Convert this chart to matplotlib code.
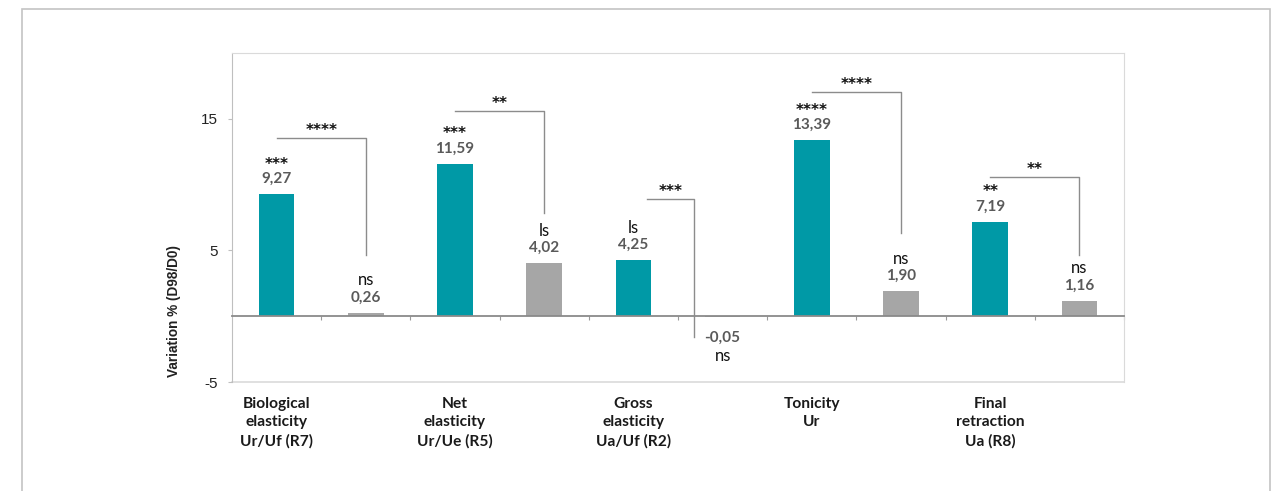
import numpy as np
import matplotlib
matplotlib.use('Agg')
import matplotlib.pyplot as plt
import matplotlib.transforms as mtransforms
from matplotlib.patches import Rectangle

# Parameter groups, one teal (treated) / gray (placebo) pair each
categories = ['Biological\nelasticity\nUr/Uf (R7)',
              'Net\nelasticity\nUr/Ue (R5)',
              'Gross\nelasticity\nUa/Uf (R2)',
              'Tonicity\nUr',
              'Final\nretraction\nUa (R8)']
teal_values = [9.27, 11.59, 4.25, 13.39, 7.19]
gray_values = [0.26, 4.02, -0.05, 1.90, 1.16]
teal_sig = ['***', '***', 'ls', '****', '**']
gray_sig = ['ns', 'ls', 'ns', 'ns', 'ns']

# between-group comparison brackets
pair_sig = ['****', '**', '***', '****', '**']
bracket_top = [13.56, 15.6, 8.9, 17.0, 10.6]
bracket_drop = [4.65, 7.84, -1.6, 6.3, 4.65]
bracket_span = [(0.0, 1.0), (0.0, 1.0), (0.15, 0.68), (0.0, 1.0), (0.0, 1.0)]

y_ticks = [-5, 5, 15]

TEAL = '#0099A6'
GRAY = '#A6A6A6'
LABEL_FONT = ['Lato', 'DejaVu Sans']
STAR_FONT = ['DejaVu Sans']
AXIS_FONT = ['Liberation Sans', 'DejaVu Sans']


def fmt(v):
    return f'{v:.2f}'.replace('.', ',')


def main():
    fig = plt.figure(figsize=(12.78, 4.91), dpi=100)
    ax = fig.add_axes([232 / 1278, 1 - 382 / 491, (1124 - 232) / 1278, (382 - 53) / 491])

    # outer frame around the whole figure
    fig.patches.append(Rectangle((22 / 1278, -0.05), (1270 - 22) / 1278, 0.05 + 1 - 9 / 491,
                                 transform=fig.transFigure, fill=False,
                                 edgecolor='#C4C4C4', linewidth=1.2))

    values, colors, sigs = [], [], []
    for t, g, ts, gs in zip(teal_values, gray_values, teal_sig, gray_sig):
        values += [t, g]
        colors += [TEAL, GRAY]
        sigs += [ts, gs]
    x = np.arange(len(values))

    ax.bar(x, values, width=0.4, color=colors, zorder=2)
    ax.set_xlim(-0.5, len(values) - 0.5)
    ax.set_ylim(-5, 20)

    # frame
    for side in ['top', 'right']:
        ax.spines[side].set_color('#DADADA')
    ax.spines['left'].set_color('#BFBFBF')
    ax.spines['bottom'].set_position(('data', 0))
    ax.spines['bottom'].set_color('#8A8A8A')
    ax.spines['bottom'].set_linewidth(1.3)
    ax.axhline(-5, color='#DADADA', linewidth=1.2, clip_on=False, zorder=1)

    ax.set_yticks(y_ticks)
    ax.set_yticklabels([str(t) for t in y_ticks], family=AXIS_FONT, fontsize=11, color='#222222')
    ax.tick_params(axis='y', direction='out', length=3, color='#BFBFBF', pad=7)
    ax.set_xticks(np.arange(0.5, len(values), 1.0))
    ax.set_xticklabels([])
    ax.tick_params(axis='x', direction='out', length=3, color='#9A9A9A', width=0.8)

    fig.text(174 / 1278, 1 - 311 / 491, 'Variation % (D98/D0)', rotation=90,
             ha='center', va='center', family=AXIS_FONT, fontsize=9.8,
             fontweight='bold', color='#222222')

    # category names under each teal bar
    trans = mtransforms.blended_transform_factory(ax.transData, ax.transAxes)
    for i, name in enumerate(categories):
        ax.text(2 * i, -0.045, name, transform=trans, ha='center', va='top',
                family=LABEL_FONT, fontsize=11.2, fontweight='bold',
                color='#1A1A1A', linespacing=1.4)

    # value and significance labels on each bar (below the bar when negative)
    for xi, v, s in zip(x, values, sigs):
        if v >= 0:
            val_off, sig_off = 11, 23.5
        else:
            val_off, sig_off = -15, -28
        ax.annotate(fmt(v), (xi, v), xytext=(0, val_off), textcoords='offset points',
                    ha='center', va='center', family=LABEL_FONT, fontsize=11,
                    fontweight='bold', color='#5A5A5A')
        if s.startswith('*'):
            ax.annotate(s, (xi, v), xytext=(0, 16), textcoords='offset points',
                        ha='center', va='bottom', family=STAR_FONT, fontsize=11,
                        fontweight='bold', color='#111111')
        else:
            ax.annotate(s, (xi, v), xytext=(0, sig_off), textcoords='offset points',
                        ha='center', va='center', family=LABEL_FONT, fontsize=12,
                        color='#111111')

    # comparison brackets between each pair
    for i, (s, top, drop, (a, b)) in enumerate(zip(pair_sig, bracket_top, bracket_drop, bracket_span)):
        x0, x1 = 2 * i + a, 2 * i + b
        ax.plot([x0, x1, x1], [top, top, drop], color='#8C8C8C', linewidth=1.0, zorder=3)
        ax.annotate(s, ((x0 + x1) / 2, top), xytext=(0, 0), textcoords='offset points',
                    ha='center', va='bottom', family=STAR_FONT, fontsize=11,
                    fontweight='bold', color='#111111')

    fig.savefig('out.png', dpi=100)
    plt.close(fig)


if __name__ == '__main__':
    main()
